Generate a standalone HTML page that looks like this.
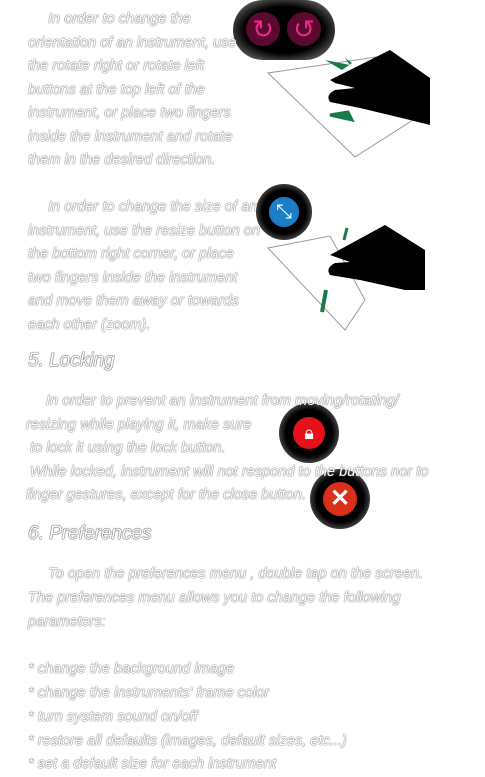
<!DOCTYPE html>
<html><head><meta charset="utf-8"><style>
body{margin:0;width:485px;height:768px;background:#fff;position:relative;overflow:hidden;font-family:"Liberation Sans",sans-serif}
.t{position:absolute;font-style:italic;font-size:14.6px;color:#fff;white-space:nowrap;text-shadow:0 0 1px #555,0 0 1px #555;line-height:16px}
.h{position:absolute;font-style:italic;font-size:19px;color:#fff;white-space:nowrap;text-shadow:0 0 1px #444,0 0 1px #444,0 0 1px #444}
.btn{position:absolute;border-radius:50%;background:radial-gradient(circle,#000 55%,#444 72%,#fff 100%)}
</style></head><body>
<svg style="position:absolute;left:0;top:0" width="485" height="768">
<g>
<polygon points="268,73 390,55 413,120 355,157" fill="#fff" stroke="#999" stroke-width="1"/>
<path d="M330,80 L390,50 L430,78 L430,125 L410,120 L360,108 L330,102 Q325,95 335,90 L355,88 L335,83 Z" fill="#000"/>
<path d="M325,60 L350,65 L345,58 L352,63 L342,70 Z" fill="#187a45"/>
<path d="M330,115 L352,120 L348,112 Z" fill="#187a45" stroke="#187a45" stroke-width="3"/>
</g>
<g>
<polygon points="268,248 330,236 365,300 345,330" fill="#fff" stroke="#999" stroke-width="1"/>
<path d="M330,255 L385,225 L425,250 L425,290 L405,290 L360,280 L330,275 Q325,268 335,263 L350,262 Z" fill="#000"/>
<line x1="344" y1="240" x2="347" y2="228" stroke="#187a45" stroke-width="3"/>
<line x1="326" y1="290" x2="322" y2="312" stroke="#187a45" stroke-width="4"/>
</g>
</svg>
<div style="position:absolute;left:233px;top:0;width:102px;height:60px;border-radius:30px;background:radial-gradient(ellipse,#000 55%,#555 80%,#fff 100%)"></div>
<div style="position:absolute;left:246px;top:12px;width:34px;height:34px;border-radius:50%;background:#5a0a2e;color:#f0258a;font-size:26px;line-height:34px;text-align:center">↻</div>
<div style="position:absolute;left:287px;top:12px;width:34px;height:34px;border-radius:50%;background:#5a0a2e;color:#f0258a;font-size:26px;line-height:34px;text-align:center">↺</div>
<div class="btn" style="left:256px;top:184px;width:56px;height:56px"><div style="position:absolute;left:13px;top:13px;width:30px;height:30px;border-radius:50%;background:#1a7fc8;color:#fff;font-size:20px;line-height:30px;text-align:center">⤡</div></div>
<div class="btn" style="left:279px;top:403px;width:60px;height:60px"><div style="position:absolute;left:14px;top:14px;width:32px;height:32px;border-radius:50%;background:#e8101a;color:#fff;font-size:18px;line-height:32px;text-align:center">🔒︎</div></div>
<div class="btn" style="left:310px;top:469px;width:60px;height:60px"><div style="position:absolute;left:13px;top:13px;width:34px;height:34px;border-radius:50%;background:#d8301a;color:#fff;font-size:24px;font-weight:bold;line-height:34px;text-align:center">✕</div></div>

<div class="t" style="left:28px;top:8px;line-height:23.5px">
<span style="padding-left:20px">In order to change the</span><br>orientation of an instrument, use<br>the rotate right or rotate left<br>buttons at the top left of the<br>instrument, or place two fingers<br>inside the instrument and rotate<br>them in the desired direction.</div>
<div class="t" style="left:28px;top:196px;line-height:23.5px">
<span style="padding-left:20px">In order to change the size of an</span><br>instrument, use the resize button on<br>the bottom right corner, or place<br>two fingers inside the instrument<br>and move them away or towards<br>each other (zoom).</div>
<div class="h" style="left:28px;top:350px">5. Locking</div>
<div class="t" style="left:26px;top:390px;line-height:23.5px">
<span style="padding-left:20px">In order to prevent an instrument from moving/rotating/</span><br>resizing while playing it, make sure<br>&nbsp;to lock it using the lock button.<br>&nbsp;While locked, instrument will not respond to the buttons nor to<br>finger gestures, except for the close button.</div>
<div class="h" style="left:28px;top:523px">6. Preferences</div>
<div class="t" style="left:28px;top:563px;line-height:23.8px">
<span style="padding-left:20px">To open the preferences menu , double tap on the screen.</span><br>The preferences menu allows you to change the following<br>parameters:<br><br>* change the background image<br>* change the instruments' frame color<br>* turn system sound on/off<br>* restore all defaults (images, default sizes, etc...)<br>* set a default size for each instrument</div>
</body></html>
